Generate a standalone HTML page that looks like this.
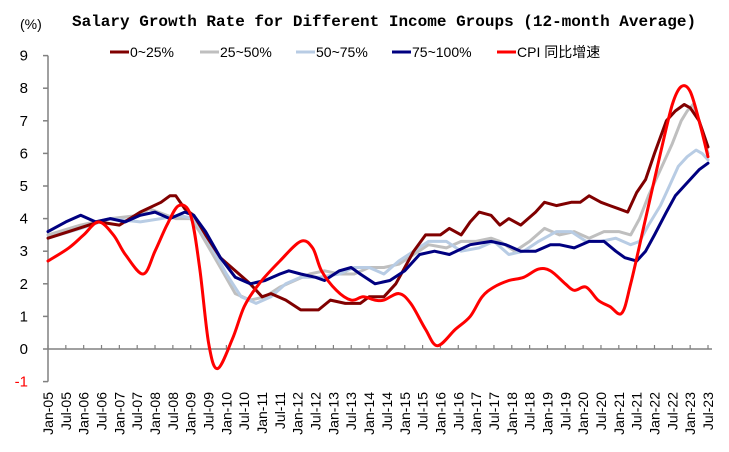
<!DOCTYPE html>
<html><head><meta charset="utf-8"><style>
body{margin:0;background:#fff;}
svg{display:block;font-family:"Liberation Sans","Noto Sans CJK SC",sans-serif;}
</style></head><body>
<svg id="chart" width="729" height="452" xmlns="http://www.w3.org/2000/svg">
<text x="72" y="26" font-family="Liberation Mono, monospace" font-weight="bold" font-size="16" fill="#000">Salary Growth Rate for Different Income Groups (12-month Average)</text>
<text x="20" y="29" font-size="14" fill="#000">(%)</text>
<g id="axes"></g>
<g id="series"></g>
<g id="legend"></g>
</svg>
<script>
const yTicks=[9,8,7,6,5,4,3,2,1,0,-1];
const xLabels=["Jan-05","Jul-05","Jan-06","Jul-06","Jan-07","Jul-07","Jan-08","Jul-08","Jan-09","Jul-09","Jan-10","Jul-10","Jan-11","Jul-11","Jan-12","Jul-12","Jan-13","Jul-13","Jan-14","Jul-14","Jan-15","Jul-15","Jan-16","Jul-16","Jan-17","Jul-17","Jan-18","Jul-18","Jan-19","Jul-19","Jan-20","Jul-20","Jan-21","Jul-21","Jan-22","Jul-22","Jan-23","Jul-23"];
const cpiMonths=[0,7,12,17,22,26,32,36,40,44,48,51,54,57,62,66,71,78,85,89,92,97,102,106,110,113,118,122,127,131,137,142,146,150,155,160,165,169,174,177,181,185,189,193,196,201,206,210,213,216,219,222];
const cpiValues=[2.7,3.1,3.5,3.9,3.5,2.9,2.3,3.0,3.8,4.4,4.1,2.5,0.2,-0.6,0.3,1.3,2.0,2.7,3.3,3.1,2.4,1.8,1.5,1.6,1.5,1.5,1.7,1.4,0.6,0.1,0.6,1.0,1.6,1.9,2.1,2.2,2.45,2.4,2.0,1.8,1.9,1.5,1.3,1.1,2.0,4.0,6.0,7.5,8.05,7.9,7.0,5.9];
const g1Months=[0,7,17,24,31,38,41,43,46,49,53,58,63,68,72,75,80,85,91,95,100,105,108,113,117,120,123,127,132,135,139,142,145,149,152,155,159,164,167,171,176,179,182,186,189,192,195,198,201,204,208,211,214,216,219,222];
const g1Values=[3.4,3.6,3.9,3.8,4.2,4.5,4.7,4.7,4.3,4.1,3.5,2.8,2.4,2.0,1.6,1.7,1.5,1.2,1.2,1.5,1.4,1.4,1.6,1.6,2.0,2.5,3.0,3.5,3.5,3.7,3.5,3.9,4.2,4.1,3.8,4.0,3.8,4.2,4.5,4.4,4.5,4.5,4.7,4.5,4.4,4.3,4.2,4.8,5.2,6.0,7.0,7.3,7.5,7.4,7.0,6.2];
const g2Months=[0,11,21,31,34,43,48,51,58,63,68,73,78,83,88,93,98,103,108,113,118,123,128,134,139,144,149,152,157,162,167,172,177,182,187,192,196,199,202,206,210,213,215,217,219,222];
const g2Values=[3.5,3.8,4.0,4.1,4.3,4.0,4.0,3.6,2.5,1.7,1.5,1.6,1.9,2.1,2.3,2.4,2.3,2.3,2.5,2.5,2.6,2.9,3.2,3.1,3.3,3.3,3.4,3.3,3.0,3.3,3.7,3.5,3.6,3.4,3.6,3.6,3.5,4.0,4.7,5.5,6.3,7.0,7.3,7.5,7.0,6.0];
const g3Months=[0,11,21,31,38,44,49,54,60,65,70,75,80,85,91,98,103,108,113,118,123,128,134,139,145,150,155,160,165,171,176,181,186,191,196,199,202,206,209,212,215,218,220,222];
const g3Values=[3.4,3.7,4.0,3.9,4.0,4.1,4.0,3.3,2.3,1.6,1.4,1.6,2.0,2.2,2.2,2.3,2.5,2.5,2.3,2.7,3.0,3.3,3.3,3.0,3.1,3.3,2.9,3.0,3.3,3.6,3.6,3.3,3.3,3.4,3.2,3.3,3.8,4.4,5.0,5.6,5.9,6.1,6.0,5.8];
const g4Months=[0,6,11,16,21,26,31,36,41,46,49,53,58,63,68,73,78,81,85,90,93,98,102,105,110,115,120,125,130,135,142,149,154,159,164,169,172,177,182,187,191,194,198,201,204,208,211,214,219,222];
const g4Values=[3.6,3.9,4.1,3.9,4.0,3.9,4.1,4.2,4.0,4.2,4.1,3.6,2.8,2.2,2.0,2.1,2.3,2.4,2.3,2.2,2.1,2.4,2.5,2.3,2.0,2.1,2.4,2.9,3.0,2.9,3.2,3.3,3.2,3.0,3.0,3.2,3.2,3.1,3.3,3.3,3.0,2.8,2.7,3.0,3.5,4.2,4.7,5.0,5.5,5.7];
const seriesNames=["0~25%","25~50%","50~75%","75~100%","CPI 同比增速"];

const NS="http://www.w3.org/2000/svg";
const X0=48, PXM=2.973, Y0=349, PXU=32.6;
function xs(m){return X0+m*PXM;}
function ys(v){return Y0-v*PXU;}
function mk(tag,attrs,parent){const e=document.createElementNS(NS,tag);for(const k in attrs)e.setAttribute(k,attrs[k]);parent.appendChild(e);return e;}
const axes=document.getElementById('axes');
let e=mk('line',{x1:X0,y1:ys(9),x2:X0,y2:ys(-1),stroke:'#808080','stroke-width':1.5},axes);


yTicks.forEach(v=>{
  let t=mk('line',{x1:X0-5,y1:ys(v),x2:X0,y2:ys(v),stroke:'#808080','stroke-width':1.5},axes);
  
  
  let l=mk('text',{x:28,y:ys(v)+5,'text-anchor':'end','font-size':15,fill:v<0?'#ff0000':'#000'},axes);
  l.textContent=v;
  
  
});
e=mk('line',{x1:X0,y1:Y0,x2:xs(222)+4,y2:Y0,stroke:'#808080','stroke-width':1.5},axes);


xLabels.forEach((s,i)=>{
  const x=xs(i*6);
  let t=mk('line',{x1:x,y1:Y0-4,x2:x,y2:Y0,stroke:'#808080','stroke-width':1.2},axes);
  
  
  let l=mk('text',{x:0,y:0,'text-anchor':'end','font-size':14,fill:'#000',transform:`translate(${x+5},392) rotate(-90)`},axes);
  l.textContent=s;
  
  
});
const ser=document.getElementById('series');
function draw(ms,vs,color,name,smooth){
  const P=ms.map((m,i)=>[xs(m),ys(vs[i])]);
  let d='M'+P[0][0].toFixed(1)+','+P[0][1].toFixed(1);
  for(let i=0;i<P.length-1;i++){
    if(smooth){
      const p0=P[Math.max(0,i-1)],p1=P[i],p2=P[i+1],p3=P[Math.min(P.length-1,i+2)];
      const c1=[p1[0]+(p2[0]-p0[0])/6,p1[1]+(p2[1]-p0[1])/6];
      const c2=[p2[0]-(p3[0]-p1[0])/6,p2[1]-(p3[1]-p1[1])/6];
      d+='C'+c1[0].toFixed(1)+','+c1[1].toFixed(1)+' '+c2[0].toFixed(1)+','+c2[1].toFixed(1)+' '+p2[0].toFixed(1)+','+p2[1].toFixed(1);
    } else d+='L'+P[i+1][0].toFixed(1)+','+P[i+1][1].toFixed(1);
  }
  const p=mk('path',{d:d,fill:'none',stroke:color,'stroke-width':3,'stroke-linejoin':'round','stroke-linecap':'round'},ser);
  
  
}
draw(g2Months,g2Values,'#bfbfbf','series-25-50',false);
draw(g3Months,g3Values,'#b8cce4','series-50-75',false);
draw(g1Months,g1Values,'#800000','series-0-25',false);
draw(g4Months,g4Values,'#000080','series-75-100',false);
draw(cpiMonths,cpiValues,'#ff0000','series-cpi',true);
const leg=document.getElementById('legend');
const lx=[110,200,296,392,497], lc=['#800000','#bfbfbf','#b8cce4','#000080','#ff0000'];
seriesNames.forEach((n,i)=>{
  let l=mk('line',{x1:lx[i],y1:52,x2:lx[i]+19,y2:52,stroke:lc[i],'stroke-width':3},leg);
  
  
  let t=mk('text',{x:lx[i]+20,y:57,'font-size':14,fill:'#000'},leg);
  t.textContent=n;
  
  
});
</script>
</body></html>
